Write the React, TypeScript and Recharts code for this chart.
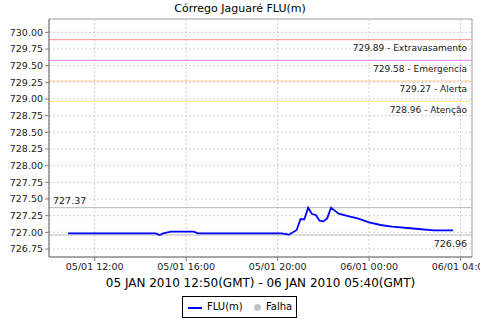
import React from 'react';
import { LineChart, Line, XAxis, YAxis, CartesianGrid, ReferenceLine, ReferenceArea } from 'recharts';

const times: string[] = [
  '05/01 10:50', '05/01 14:40', '05/01 14:50', '05/01 15:00', '05/01 15:20', '05/01 16:20', '05/01 16:30',
  '05/01 20:10', '05/01 20:30', '05/01 20:50', '05/01 21:00', '05/01 21:10', '05/01 21:20', '05/01 21:30',
  '05/01 21:40', '05/01 21:50', '05/01 22:00', '05/01 22:10', '05/01 22:20', '05/01 22:40', '05/01 23:10',
  '05/01 23:30', '06/01 00:00', '06/01 00:30', '06/01 01:00', '06/01 01:40', '06/01 02:10', '06/01 02:50',
  '06/01 03:40',
];
const flu: number[] = [
  726.985, 726.985, 726.96, 726.985, 727.01, 727.01, 726.985,
  726.985, 726.965, 727.035, 727.2, 727.195, 727.37, 727.275,
  727.26, 727.175, 727.165, 727.21, 727.37, 727.28, 727.235,
  727.21, 727.15, 727.11, 727.085, 727.065, 727.05, 727.03,
  727.03,
];
const thresholdValues: number[] = [729.89, 729.58, 729.27, 728.96];
const thresholdNames: string[] = ['Extravasamento', 'Emergencia', 'Alerta', 'Atenção'];
const thresholdColors: string[] = ['#f29090', '#ff80ff', '#ffc890', '#ffe38a'];
const maxValue = 727.37;
const minValue = 726.96;
const yTicks: number[] = [726.75, 727, 727.25, 727.5, 727.75, 728, 728.25, 728.5, 728.75, 729, 729.25, 729.5, 729.75, 730];
const xTicks: number[] = [12, 16, 20, 24, 28];
const title = 'Córrego Jaguaré FLU(m)';
const xLabel = '05 JAN 2010 12:50(GMT) - 06 JAN 2010 05:40(GMT)';

const toHours = (s: string) => {
  const [d, t] = s.split(' ');
  const day = parseInt(d.split('/')[0], 10) - 5;
  const [h, m] = t.split(':').map(Number);
  return day * 24 + h + m / 60;
};

const data = times.map((t, i) => ({ x: toHours(t), v: flu[i] }));

const pad = (n: number) => (n < 10 ? '0' + n : '' + n);
const fmtX = (h: number) => {
  const day = h >= 24 ? 6 : 5;
  const hh = Math.round(h) % 24;
  return `${pad(day)}/01 ${pad(hh)}:00`;
};

const FONT = 'DejaVu Sans';

export default function App() {
  return (
    <div style={{ position: 'absolute', left: 0, top: 0, width: 480, height: 320, background: '#fff', fontFamily: FONT }}>
      <div style={{ position: 'absolute', left: 0, top: 2, width: 480, textAlign: 'center', fontSize: 11, lineHeight: '13px', color: '#000' }}>
        {title}
      </div>
      <LineChart
        width={480}
        height={320}
        data={data}
        margin={{ top: 19, right: 8, left: 0, bottom: 0 }}
        style={{ fontFamily: FONT }}
      >
        <CartesianGrid stroke="#d0d0d0" strokeDasharray="2 2" verticalPoints={undefined} />
        <ReferenceArea x1={10} x2={28.5} y1={726.63} y2={730.2} fill="none" stroke="#a8a8a8" strokeWidth={1} ifOverflow="extendDomain" />
        <XAxis
          type="number"
          dataKey="x"
          domain={[10, 28.5]}
          ticks={xTicks}
          interval={0}
          tickFormatter={fmtX}
          height={63}
          tickSize={4}
          tickMargin={2}
          stroke="#808080"
          tick={{ fill: '#222', fontSize: 9.5 }}
          allowDataOverflow
        />
        <YAxis
          type="number"
          domain={[726.63, 730.2]}
          ticks={yTicks}
          interval={0}
          tickFormatter={(v: number) => v.toFixed(2)}
          width={49}
          tickSize={4}
          tickMargin={2}
          stroke="#808080"
          tick={{ fill: '#222', fontSize: 9.5 }}
          allowDataOverflow
        />
        {thresholdValues.map((v, i) => (
          <ReferenceLine
            key={v}
            y={v}
            stroke={thresholdColors[i]}
            strokeWidth={1}
            label={{ value: `${v.toFixed(2)} - ${thresholdNames[i]}`, position: 'insideTopRight', offset: 5, fontSize: 9, fill: '#222' }}
          />
        ))}
        <ReferenceLine
          y={maxValue}
          stroke="#b8b8b8"
          label={{ value: maxValue.toFixed(2), position: 'insideBottomLeft', offset: 4, fontSize: 9.5, fill: '#222' }}
        />
        <ReferenceLine
          y={minValue}
          stroke="#b8b8b8"
          label={{ value: minValue.toFixed(2), position: 'insideTopRight', offset: 5, fontSize: 9.5, fill: '#222' }}
        />
        <Line type="linear" dataKey="v" stroke="#0000ff" strokeWidth={1.8} dot={false} isAnimationActive={false} />
      </LineChart>
      <div style={{ position: 'absolute', left: 49, top: 276, width: 423, textAlign: 'center', fontSize: 12, lineHeight: '14px', color: '#000' }}>
        {xLabel}
      </div>
      <div style={{ position: 'absolute', left: 182, top: 296, width: 113, height: 20, border: '1px solid #000', boxSizing: 'content-box', fontSize: 10, color: '#000' }}>
        <div style={{ position: 'absolute', left: 5, top: 10, width: 14, height: 2, background: '#0000ff' }} />
        <div style={{ position: 'absolute', left: 24, top: 3, lineHeight: '14px' }}>FLU(m)</div>
        <div style={{ position: 'absolute', left: 71, top: 7, width: 7, height: 7, borderRadius: '50%', background: '#c4c4c4' }} />
        <div style={{ position: 'absolute', left: 83, top: 3, lineHeight: '14px' }}>Falha</div>
      </div>
    </div>
  );
}
